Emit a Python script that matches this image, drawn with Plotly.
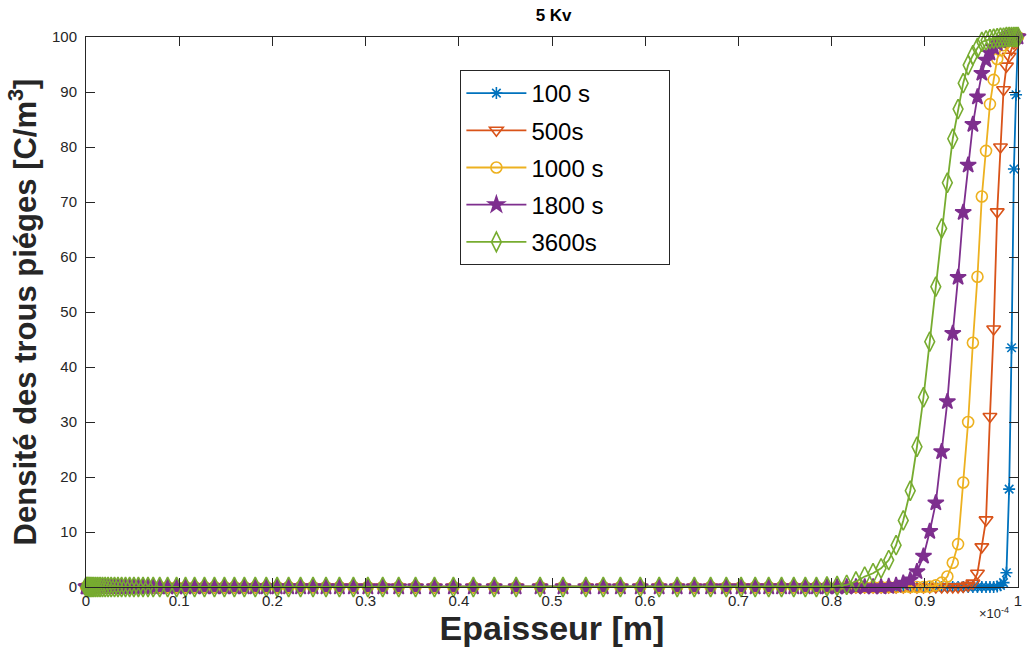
import plotly.graph_objects as go

# x positions (units of 1e-4 m)
x_grid = [
    0.0000, 0.0011, 0.0022, 0.0035, 0.0049, 0.0065, 0.0083, 0.0104, 0.0126, 0.0151,
    0.0177, 0.0206, 0.0237, 0.0270, 0.0306, 0.0343, 0.0382, 0.0424, 0.0468, 0.0514,
    0.0562, 0.0612, 0.0665, 0.0721, 0.0791, 0.0876, 0.0972, 0.1068, 0.1165, 0.1271,
    0.1378, 0.1485, 0.1592, 0.1699, 0.1816, 0.1934, 0.2051, 0.2174, 0.2302, 0.2436,
    0.2575, 0.2719, 0.2869, 0.3024, 0.3184, 0.3355, 0.3536, 0.3739, 0.3942, 0.4156,
    0.4380, 0.4615, 0.4872, 0.5118, 0.5363, 0.5550,
    0.5734, 0.5947, 0.6150, 0.6343, 0.6527, 0.6702, 0.6870, 0.7029, 0.7180, 0.7325,
    0.7463, 0.7594, 0.7718, 0.7837, 0.7950, 0.8059, 0.8162, 0.8261, 0.8355, 0.8445,
    0.8531, 0.8613, 0.8692, 0.8769, 0.8844, 0.8916, 0.8986, 0.9053, 0.9118, 0.9181,
    0.9242, 0.9300, 0.9357, 0.9412, 0.9465, 0.9516, 0.9565, 0.9612, 0.9657, 0.9699,
    0.9739, 0.9777, 0.9812, 0.9845, 0.9876, 0.9905, 0.9931, 0.9956, 0.9979, 1.0000,
]

# 97 zeros then the rise
y_100s = [
    0, 0, 0, 0, 0, 0, 0, 0, 0, 0,
    0, 0, 0, 0, 0, 0, 0, 0, 0, 0,
    0, 0, 0, 0, 0, 0, 0, 0, 0, 0,
    0, 0, 0, 0, 0, 0, 0, 0, 0, 0,
    0, 0, 0, 0, 0, 0, 0, 0, 0, 0,
    0, 0, 0, 0, 0, 0, 0, 0, 0, 0,
    0, 0, 0, 0, 0, 0, 0, 0, 0, 0,
    0, 0, 0, 0, 0, 0, 0, 0, 0, 0,
    0, 0, 0, 0, 0, 0, 0, 0, 0, 0,
    0, 0, 0, 0, 0, 0, 0,
    0.1, 0.3, 0.8, 2.6, 17.8, 43.5, 76.0, 89.5, 100.0,
]

# 89 zeros then the rise
y_500s = [
    0, 0, 0, 0, 0, 0, 0, 0, 0, 0,
    0, 0, 0, 0, 0, 0, 0, 0, 0, 0,
    0, 0, 0, 0, 0, 0, 0, 0, 0, 0,
    0, 0, 0, 0, 0, 0, 0, 0, 0, 0,
    0, 0, 0, 0, 0, 0, 0, 0, 0, 0,
    0, 0, 0, 0, 0, 0, 0, 0, 0, 0,
    0, 0, 0, 0, 0, 0, 0, 0, 0, 0,
    0, 0, 0, 0, 0, 0, 0, 0, 0, 0,
    0, 0, 0, 0, 0, 0, 0, 0, 0,
    0.1, 0.3, 0.7, 2.5, 7.3, 12.2, 31.0, 46.9, 68.2, 80.0,
    90.4, 94.7, 96.5, 97.8, 98.9, 99.6, 100.0,
]

# 83 zeros then the rise
y_1000s = [
    0, 0, 0, 0, 0, 0, 0, 0, 0, 0,
    0, 0, 0, 0, 0, 0, 0, 0, 0, 0,
    0, 0, 0, 0, 0, 0, 0, 0, 0, 0,
    0, 0, 0, 0, 0, 0, 0, 0, 0, 0,
    0, 0, 0, 0, 0, 0, 0, 0, 0, 0,
    0, 0, 0, 0, 0, 0, 0, 0, 0, 0,
    0, 0, 0, 0, 0, 0, 0, 0, 0, 0,
    0, 0, 0, 0, 0, 0, 0, 0, 0, 0,
    0, 0, 0,
    0.1, 0.3, 0.8, 1.9, 4.4, 7.8, 19.0, 30.0, 44.4, 56.4,
    71.0, 79.3, 87.8, 92.2, 96.0, 97.6, 98.5, 99.1, 99.5, 99.8,
    99.9, 100.0, 100.0,
]

# 77 zeros then the rise
y_1800s = [
    0, 0, 0, 0, 0, 0, 0, 0, 0, 0,
    0, 0, 0, 0, 0, 0, 0, 0, 0, 0,
    0, 0, 0, 0, 0, 0, 0, 0, 0, 0,
    0, 0, 0, 0, 0, 0, 0, 0, 0, 0,
    0, 0, 0, 0, 0, 0, 0, 0, 0, 0,
    0, 0, 0, 0, 0, 0, 0, 0, 0, 0,
    0, 0, 0, 0, 0, 0, 0, 0, 0, 0,
    0, 0, 0, 0, 0, 0, 0,
    0.1, 0.3, 0.7, 1.3, 2.8, 5.6, 10.1, 15.3, 24.6, 33.7,
    46.1, 56.3, 68.1, 76.7, 84.1, 89.1, 93.4, 95.8, 97.1, 98.1,
    98.8, 99.3, 99.6, 99.8, 99.9, 99.9, 100.0, 100.0, 100.0,
]

# 70 zeros then the rise
y_3600s = [
    0, 0, 0, 0, 0, 0, 0, 0, 0, 0,
    0, 0, 0, 0, 0, 0, 0, 0, 0, 0,
    0, 0, 0, 0, 0, 0, 0, 0, 0, 0,
    0, 0, 0, 0, 0, 0, 0, 0, 0, 0,
    0, 0, 0, 0, 0, 0, 0, 0, 0, 0,
    0, 0, 0, 0, 0, 0, 0, 0, 0, 0,
    0, 0, 0, 0, 0, 0, 0, 0, 0, 0,
    0.1, 0.2, 0.4, 1.0, 1.9, 2.5, 3.4, 4.9, 7.6, 12.1,
    17.5, 25.5, 34.5, 44.6, 54.6, 65.2, 73.5, 81.5, 86.9, 91.6,
    94.9, 96.7, 98.0, 99.1, 99.4, 99.6, 99.7, 99.8, 99.9, 99.9,
    100.0, 100.0, 100.0, 100.0, 100.0, 100.0,
]

NB = "\u00a0"
series_names = ["100 s", "500s", "1000 s" + NB * 9, "1800 s", "3600s"]
series_values = [y_100s, y_500s, y_1000s, y_1800s, y_3600s]
for ys in series_values:
    assert len(ys) == len(x_grid), (len(ys), len(x_grid))
colors = ["#0072BD", "#D95319", "#EDB120", "#7E2F8E", "#77AC30"]
symbols = ["asterisk-open", "triangle-down-open", "circle-open", "star", "diamond-tall-open"]
sizes = [10, 12, 11, 12, 14]

x_ticks = [0, 0.1, 0.2, 0.3, 0.4, 0.5, 0.6, 0.7, 0.8, 0.9, 1]
x_ticklabels = ["0", "0.1", "0.2", "0.3", "0.4", "0.5", "0.6", "0.7", "0.8", "0.9", "1"]
y_ticks = [0, 10, 20, 30, 40, 50, 60, 70, 80, 90, 100]

FONT = "Liberation Sans, Arial, Helvetica, sans-serif"
AX = "#262626"

fig = go.Figure()
for i, (name, ys) in enumerate(zip(series_names, series_values)):
    fig.add_trace(go.Scatter(
        x=x_grid, y=ys, mode="lines+markers", name=name,
        legendgroup=f"g{i}",
        line=dict(color=colors[i], width=1.8),
        marker=dict(symbol=symbols[i], size=sizes[i], color=colors[i],
                    line=dict(color=colors[i], width=1.6)),
        cliponaxis=False,
    ))

fig.update_layout(
    width=1029, height=657,
    margin=dict(l=86, r=7, t=37, b=70),
    paper_bgcolor="white", plot_bgcolor="white",
    font=dict(family=FONT, color=AX),
    title=dict(text="<b>5 Kv</b>", x=0.538, xanchor="center", y=0.977, yanchor="middle",
               font=dict(size=17, color="black", family=FONT)),
    legend=dict(x=0.4017, y=0.94, xanchor="left", yanchor="top",
                bgcolor="white", bordercolor=AX, borderwidth=1,
                font=dict(size=24, color="black", family=FONT),
                itemwidth=60, tracegroupgap=3, traceorder="grouped"),
    showlegend=True,
)
fig.update_xaxes(
    range=[0, 1], tickmode="array", tickvals=x_ticks, ticktext=x_ticklabels,
    ticks="inside", ticklen=9, tickcolor=AX, showline=True, linecolor=AX, linewidth=1,
    mirror="ticks", showgrid=False, zeroline=False,
    tickfont=dict(size=15, color=AX, family=FONT),
    title=dict(text="<b>Epaisseur [m]</b>", font=dict(size=34, color=AX, family=FONT), standoff=6),
)
fig.update_yaxes(
    range=[0, 100], tickmode="array", tickvals=y_ticks,
    ticks="inside", ticklen=9, tickcolor=AX, showline=True, linecolor=AX, linewidth=1,
    mirror="ticks", showgrid=False, zeroline=False, ticklabelstandoff=5,
    tickfont=dict(size=15, color=AX, family=FONT),
    title=dict(text="<b>Densité des trous piéges [C/m<sup>3</sup>]</b>",
               font=dict(size=31, color=AX, family=FONT), standoff=6),
)
fig.add_annotation(
    x=1, xref="paper", y=0, yref="paper", xshift=-7, yshift=-26,
    xanchor="right", yanchor="middle",
    text="×10<sup>-4</sup>", showarrow=False, font=dict(size=13, color=AX, family=FONT),
)

fig.write_html("out.html", config={"displayModeBar": False},
               post_script="document.body.style.margin='0px';")
